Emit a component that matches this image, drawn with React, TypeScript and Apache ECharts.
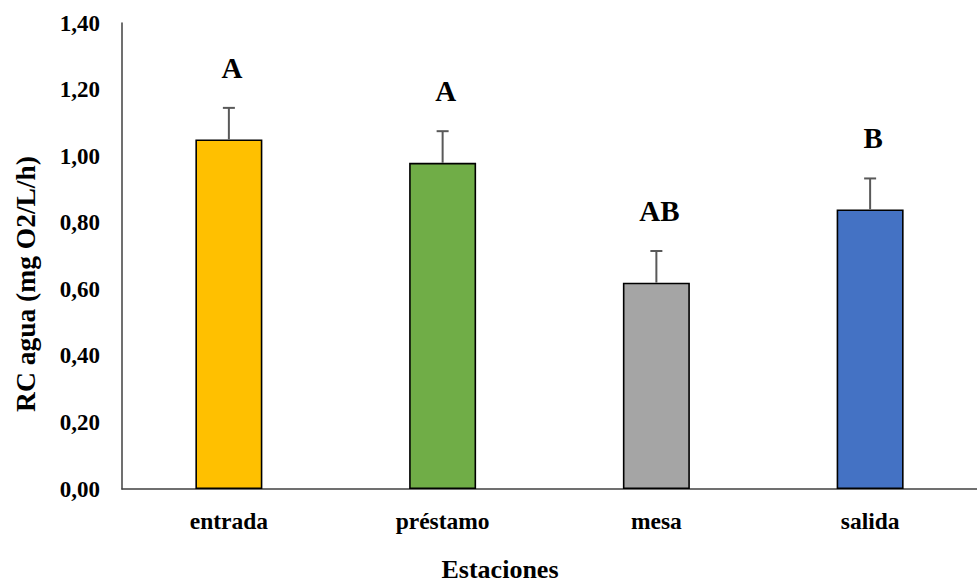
import React, { useEffect, useRef } from "react";
import * as echarts from "echarts";

const categories = ["entrada", "préstamo", "mesa", "salida"];
const values = [1.05, 0.98, 0.62, 0.84];
const errors = [0.095, 0.095, 0.095, 0.093];
const letters = ["A", "A", "AB", "B"];
const colors = ["#FFC000", "#70AD47", "#A5A5A5", "#4472C4"];
const yTicks = { min: 0, max: 1.4, interval: 0.2 };

const FONT = '"Liberation Serif", "Times New Roman", serif';

export default function App() {
  const ref = useRef<HTMLDivElement>(null);
  useEffect(() => {
    if (!ref.current) return;
    const chart = echarts.init(ref.current, null, { renderer: "svg" });
    chart.setOption({
      animation: false,
      backgroundColor: "#ffffff",
      grid: { left: 122, top: 23, width: 868, bottom: 98, containLabel: false },
      xAxis: {
        type: "category",
        data: categories,
        axisLine: { lineStyle: { color: "#404040", width: 1.5 } },
        axisTick: { show: false },
        axisLabel: {
          margin: 20,
          fontFamily: FONT,
          fontWeight: "bold",
          fontSize: 23.5,
          color: "#000",
        },
      },
      yAxis: {
        type: "value",
        min: yTicks.min,
        max: yTicks.max,
        interval: yTicks.interval,
        splitLine: { show: false },
        axisLine: { show: true, lineStyle: { color: "#404040", width: 1.5 } },
        axisTick: { show: false },
        axisLabel: {
          margin: 22,
          fontFamily: FONT,
          fontWeight: "bold",
          fontSize: 23,
          color: "#000",
          formatter: (v: number) => v.toFixed(2).replace(".", ","),
        },
      },
      graphic: [
        {
          type: "text",
          x: 25,
          y: 284,
          rotation: Math.PI / 2,
          style: {
            text: "RC agua (mg O2/L/h)",
            fontFamily: FONT,
            fontWeight: "bold",
            fontSize: 27.5,
            fill: "#000",
            textAlign: "center",
            textVerticalAlign: "middle",
          },
        },
        {
          type: "text",
          x: 500,
          y: 569,
          style: {
            text: "Estaciones",
            fontFamily: FONT,
            fontWeight: "bold",
            fontSize: 26,
            fill: "#000",
            textAlign: "center",
            textVerticalAlign: "middle",
          },
        },
      ],
      series: [
        {
          type: "bar",
          barWidth: 67,
          data: values.map((v, i) => ({
            value: v,
            itemStyle: { color: colors[i], borderColor: "#000", borderWidth: 1.6 },
          })),
        },
        {
          type: "custom",
          data: values.map((v, i) => [i, v, v + errors[i]]),
          renderItem: (params: any, api: any) => {
            const idx = api.value(0);
            const base = api.coord([idx, api.value(1)]);
            const top = api.coord([idx, api.value(2)]);
            const cap = 6;
            return {
              type: "group",
              children: [
                {
                  type: "line",
                  shape: { x1: base[0], y1: base[1], x2: top[0], y2: top[1] },
                  style: { stroke: "#595959", lineWidth: 2 },
                },
                {
                  type: "line",
                  shape: { x1: top[0] - cap, y1: top[1], x2: top[0] + cap, y2: top[1] },
                  style: { stroke: "#595959", lineWidth: 2 },
                },
                {
                  type: "text",
                  x: top[0] + 3,
                  y: top[1] - 40,
                  style: {
                    text: letters[params.dataIndex],
                    fontFamily: FONT,
                    fontWeight: "bold",
                    fontSize: 29,
                    fill: "#000",
                    textAlign: "center",
                    textVerticalAlign: "middle",
                  },
                },
              ],
            };
          },
          z: 5,
        },
      ],
    });
    return () => chart.dispose();
  }, []);
  return (
    <div
      ref={ref}
      style={{ position: "fixed", left: 0, top: 0, width: 977, height: 587 }}
    />
  );
}
